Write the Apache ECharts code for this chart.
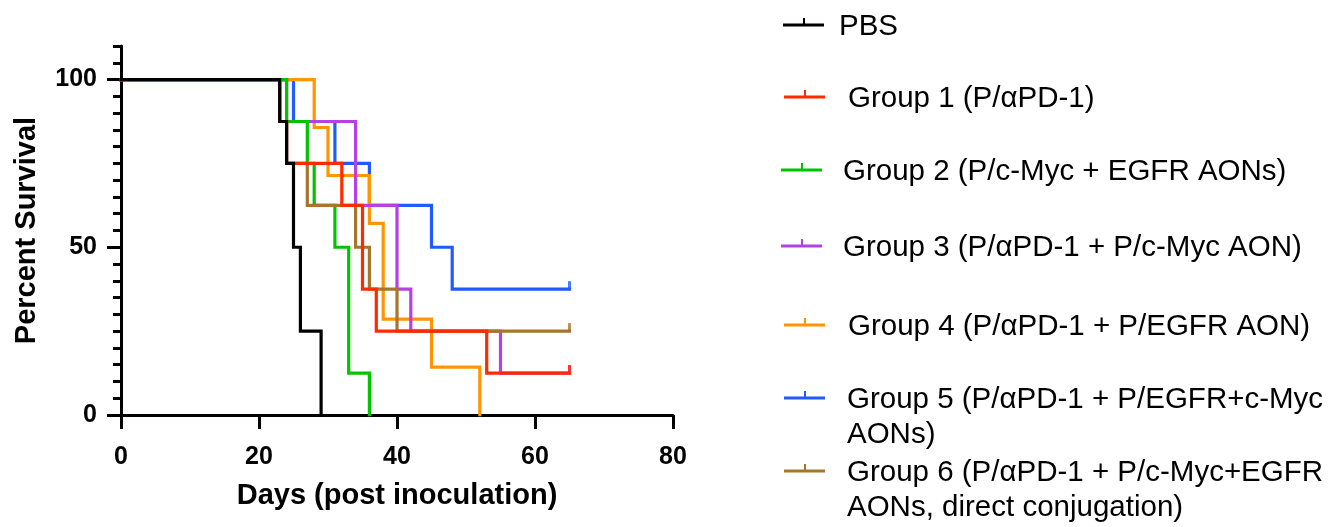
<!DOCTYPE html>
<html>
<head>
<meta charset="utf-8">
<script src="https://cdn.jsdelivr.net/npm/echarts@6/dist/echarts.min.js"></script>
<style>
html,body{margin:0;padding:0;background:#fff;}
#chart{width:1341px;height:527px;}
</style>
</head>
<body>
<div id="chart"></div>
<script>
// ---- data (days, percent survival) ----
const groupNames = [
  'PBS',
  'Group 1 (P/αPD-1)',
  'Group 2 (P/c-Myc + EGFR AONs)',
  'Group 3 (P/αPD-1 + P/c-Myc AON)',
  'Group 4 (P/αPD-1 + P/EGFR AON)',
  'Group 5 (P/αPD-1 + P/EGFR+c-Myc\nAONs)',
  'Group 6 (P/αPD-1 + P/c-Myc+EGFR\nAONs, direct conjugation)'
];
const groupColors = ['#000000', '#ff2a00', '#00c400', '#b540e6', '#ff9500', '#1f5bff', '#a7762b'];

const pbs    = [[0,100],[23,87.5],[24,75],[25,50],[26,25],[29,0]];
const group1 = [[0,100],[23,87.5],[24,75],[32,62.5],[35,37.5],[37,25],[53,12.5],[65,12.5]];
const group2 = [[0,100],[24,87.5],[27,75],[28,62.5],[31,50],[33,12.5],[36,0]];
const group3 = [[0,100],[24,87.5],[34,62.5],[40,37.5],[42,25],[55,12.5],[65,12.5]];
const group4 = [[0,100],[28,85.7],[30,71.4],[36,57.1],[38,28.6],[45,14.3],[52,0]];
const group5 = [[0,100],[25,87.5],[31,75],[36,62.5],[45,50],[48,37.5],[65,37.5]];
const group6 = [[0,100],[23,87.5],[24,75],[27,62.5],[34,50],[36,37.5],[40,25],[65,25]];

// censored observations (end of follow-up)
const censor3 = [[65,12.5]];
const censor5 = [[65,37.5]];
const censor6 = [[65,25]];
const censor1 = [[65,12.5]];

const xTicks = [0, 20, 40, 60, 80];
const yLabels = [0, 50, 100];

// legend layout (first-line centre y, line start x, text x)
const legendY = [25, 97, 170, 246, 325, 398, 471];
const legendLineX = [783, 784, 781, 781, 784, 784, 784];
const legendTextX = [839, 848, 843, 843, 848, 847, 847];

const allData = [pbs, group1, group2, group3, group4, group5, group6];
// drawing order, bottom -> top
const drawOrder = [5, 4, 3, 2, 6, 1, 0];

const chart = echarts.init(document.getElementById('chart'));

const series = [];
drawOrder.forEach(function (i) {
  series.push({
    name: groupNames[i],
    type: 'line',
    step: 'end',
    data: allData[i],
    symbol: 'none',
    lineStyle: { color: groupColors[i], width: 3.2, join: 'miter', cap: 'square' },
    itemStyle: { color: groupColors[i] },
    animation: false,
    z: 3
  });
  const c = { 3: censor3, 5: censor5, 6: censor6, 1: censor1 }[i];
  if (c) {
    series.push({
      type: 'scatter',
      data: c,
      symbol: 'rect',
      symbolSize: [3, 8],
      symbolOffset: [0, -4],
      itemStyle: { color: groupColors[i] },
      animation: false,
      silent: true,
      z: 3
    });
  }
});

const legendGraphics = [];
groupNames.forEach(function (name, i) {
  const y = legendY[i];
  const x0 = legendLineX[i];
  legendGraphics.push({
    type: 'line',
    shape: { x1: x0, y1: y, x2: x0 + 41, y2: y },
    style: { stroke: groupColors[i], lineWidth: 3 }
  });
  legendGraphics.push({
    type: 'line',
    shape: { x1: x0 + 21, y1: y, x2: x0 + 21, y2: y - 7 },
    style: { stroke: groupColors[i], lineWidth: 2 }
  });
  legendGraphics.push({
    type: 'text',
    x: legendTextX[i],
    y: y - 15.5,
    style: {
      text: name,
      fill: '#000',
      font: '29.5px "Liberation Sans", Arial, sans-serif',
      lineHeight: 35,
      verticalAlign: 'top',
      align: 'left'
    }
  });
});

const axisFont = '"Liberation Sans", Arial, sans-serif';

chart.setOption({
  animation: false,
  backgroundColor: '#fff',
  grid: { left: 121, right: 668, top: 46, bottom: 112, containLabel: false },
  xAxis: {
    type: 'value',
    min: xTicks[0],
    max: xTicks[xTicks.length - 1],
    interval: 20,
    name: 'Days (post inoculation)',
    nameLocation: 'middle',
    nameGap: 66,
    nameTextStyle: { fontFamily: axisFont, fontWeight: 'bold', fontSize: 29, color: '#000' },
    axisLine: { show: true, lineStyle: { color: '#000', width: 3 } },
    axisTick: { show: true, length: 14, lineStyle: { color: '#000', width: 3 } },
    axisLabel: { fontFamily: axisFont, fontWeight: 'bold', fontSize: 25, color: '#000', margin: 30 },
    splitLine: { show: false }
  },
  yAxis: [
    {
      type: 'value',
      min: 0,
      max: 110,
      interval: 5,
      name: 'Percent Survival',
      nameLocation: 'middle',
      nameGap: 80,
      nameTextStyle: { fontFamily: axisFont, fontWeight: 'bold', fontSize: 29, color: '#000' },
      axisLine: { show: true, lineStyle: { color: '#000', width: 3 } },
      axisTick: { show: true, length: 8, lineStyle: { color: '#000', width: 3 } },
      axisLabel: {
        fontFamily: axisFont, fontWeight: 'bold', fontSize: 25, color: '#000', margin: 24,
        formatter: function (v) { return yLabels.indexOf(v) >= 0 ? String(v) : ''; }
      },
      splitLine: { show: false }
    },
    {
      type: 'value',
      min: 0,
      max: 110,
      interval: 50,
      position: 'left',
      axisLine: { show: false },
      axisTick: { show: true, length: 14, customValues: yLabels, lineStyle: { color: '#000', width: 3 } },
      axisLabel: { show: false },
      splitLine: { show: false }
    }
  ],
  series: series,
  graphic: legendGraphics
});
</script>
</body>
</html>
